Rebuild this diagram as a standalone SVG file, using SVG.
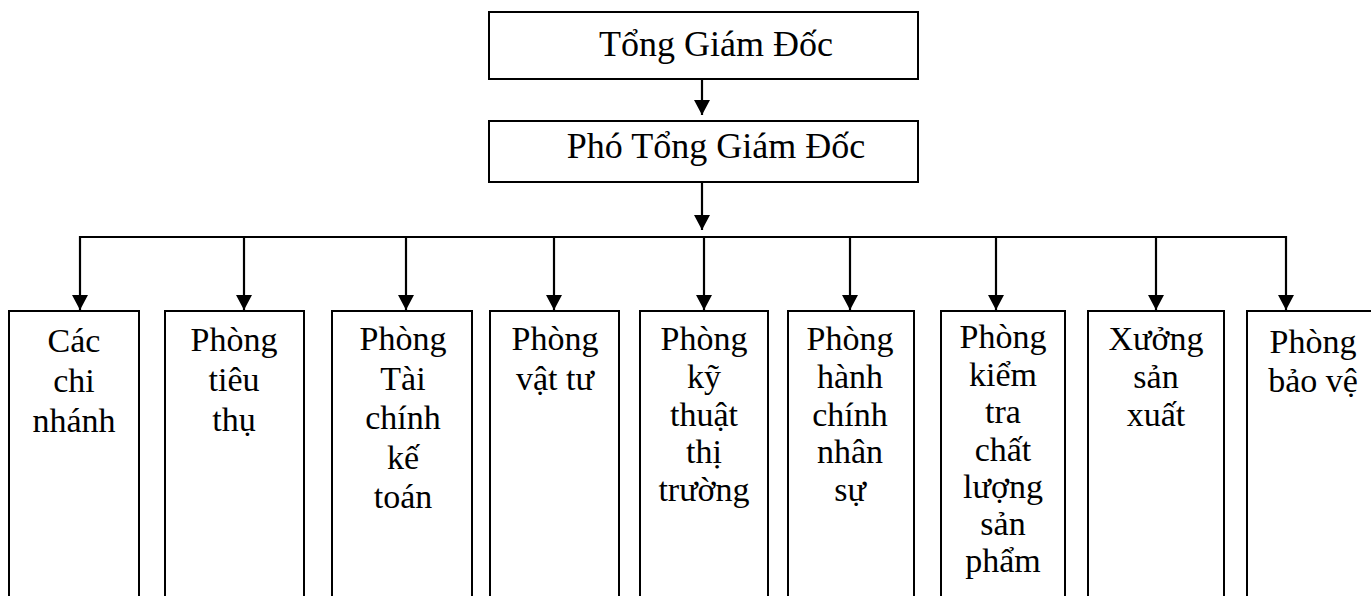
<svg xmlns="http://www.w3.org/2000/svg" width="1371" height="596" viewBox="0 0 1371 596">
  <style>
    .box { fill: #ffffff; stroke: #000000; stroke-width: 2; }
    .link { fill: none; stroke: #000000; stroke-width: 2.2; }
    .head { fill: #000000; stroke: none; }
    .title { font-family: "Liberation Serif", "Times New Roman", serif; font-size: 36px; fill: #000000; text-anchor: middle; }
    .label { font-family: "Liberation Serif", "Times New Roman", serif; font-size: 34px; fill: #000000; text-anchor: middle; }
  </style>
  <defs>
    <marker id="arrow" markerUnits="userSpaceOnUse" markerWidth="18" markerHeight="18" viewBox="0 0 18 18" refX="9" refY="16" orient="0">
      <path class="head" d="M1,1 L17,1 L9,16 Z"/>
    </marker>
  </defs>

  <rect width="1371" height="596" fill="#ffffff"/>

  <!-- connectors -->
  <g id="connectors">
    <line class="link" x1="702" y1="79" x2="702" y2="115" marker-end="url(#arrow)"/>
    <line class="link" x1="702" y1="182" x2="702" y2="230" marker-end="url(#arrow)"/>
    <line class="link" x1="80" y1="237" x2="1286" y2="237"/>
    <line class="link" x1="80" y1="236" x2="80" y2="310" marker-end="url(#arrow)"/>
    <line class="link" x1="244" y1="237" x2="244" y2="310" marker-end="url(#arrow)"/>
    <line class="link" x1="406" y1="237" x2="406" y2="310" marker-end="url(#arrow)"/>
    <line class="link" x1="554" y1="237" x2="554" y2="310" marker-end="url(#arrow)"/>
    <line class="link" x1="704" y1="237" x2="704" y2="310" marker-end="url(#arrow)"/>
    <line class="link" x1="850" y1="237" x2="850" y2="310" marker-end="url(#arrow)"/>
    <line class="link" x1="996" y1="237" x2="996" y2="310" marker-end="url(#arrow)"/>
    <line class="link" x1="1156" y1="237" x2="1156" y2="310" marker-end="url(#arrow)"/>
    <line class="link" x1="1286" y1="236" x2="1286" y2="310" marker-end="url(#arrow)"/>
  </g>

  <!-- top management -->
  <g id="tong-giam-doc">
    <rect class="box" x="489" y="12" width="429" height="67"/>
    <text class="title" x="716" y="56">Tổng Giám Đốc</text>
  </g>
  <g id="pho-tong-giam-doc">
    <rect class="box" x="489" y="121" width="429" height="61"/>
    <text class="title" x="716" y="158">Phó Tổng Giám Đốc</text>
  </g>

  <!-- departments -->
  <g id="cac-chi-nhanh">
    <rect class="box" x="9" y="311" width="130" height="300"/>
    <text class="label" x="74" y="352">Các</text>
    <text class="label" x="74" y="392">chi</text>
    <text class="label" x="74" y="432">nhánh</text>
  </g>
  <g id="phong-tieu-thu">
    <rect class="box" x="165" y="311" width="139" height="300"/>
    <text class="label" x="234" y="351">Phòng</text>
    <text class="label" x="234" y="391">tiêu</text>
    <text class="label" x="234" y="431">thụ</text>
  </g>
  <g id="phong-tai-chinh-ke-toan">
    <rect class="box" x="332" y="311" width="140" height="300"/>
    <text class="label" x="403" y="350">Phòng</text>
    <text class="label" x="403" y="390">Tài</text>
    <text class="label" x="403" y="429">chính</text>
    <text class="label" x="403" y="469">kế</text>
    <text class="label" x="403" y="508">toán</text>
  </g>
  <g id="phong-vat-tu">
    <rect class="box" x="490" y="311" width="129" height="300"/>
    <text class="label" x="555" y="350">Phòng</text>
    <text class="label" x="555" y="390">vật tư</text>
  </g>
  <g id="phong-ky-thuat-thi-truong">
    <rect class="box" x="640" y="311" width="128" height="300"/>
    <text class="label" x="704" y="350">Phòng</text>
    <text class="label" x="704" y="388">kỹ</text>
    <text class="label" x="704" y="426">thuật</text>
    <text class="label" x="704" y="463">thị</text>
    <text class="label" x="704" y="501">trường</text>
  </g>
  <g id="phong-hanh-chinh-nhan-su">
    <rect class="box" x="788" y="311" width="126" height="300"/>
    <text class="label" x="850" y="350">Phòng</text>
    <text class="label" x="850" y="388">hành</text>
    <text class="label" x="850" y="426">chính</text>
    <text class="label" x="850" y="463">nhân</text>
    <text class="label" x="850" y="501">sự</text>
  </g>
  <g id="phong-kiem-tra-chat-luong">
    <rect class="box" x="941" y="311" width="124" height="300"/>
    <text class="label" x="1003" y="348">Phòng</text>
    <text class="label" x="1003" y="386">kiểm</text>
    <text class="label" x="1003" y="423">tra</text>
    <text class="label" x="1003" y="461">chất</text>
    <text class="label" x="1003" y="498">lượng</text>
    <text class="label" x="1003" y="535">sản</text>
    <text class="label" x="1003" y="572">phẩm</text>
  </g>
  <g id="xuong-san-xuat">
    <rect class="box" x="1088" y="311" width="136" height="300"/>
    <text class="label" x="1156" y="350">Xưởng</text>
    <text class="label" x="1156" y="388">sản</text>
    <text class="label" x="1156" y="426">xuất</text>
  </g>
  <g id="phong-bao-ve">
    <rect class="box" x="1247" y="311" width="132" height="300"/>
    <text class="label" x="1313" y="353">Phòng</text>
    <text class="label" x="1313" y="392">bảo vệ</text>
  </g>
</svg>
